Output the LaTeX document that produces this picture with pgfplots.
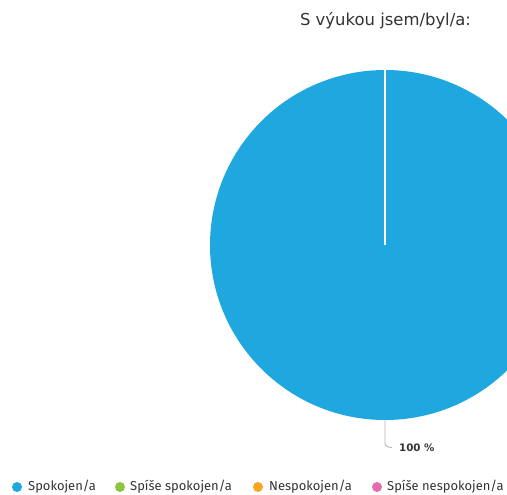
\documentclass[border=0pt]{standalone}
\usepackage{pgfplots}
\usepackage{pgfplotstable}
\pgfplotsset{compat=1.18}
\usepackage{fontspec}
\setmainfont{Fira Sans}
\newfontfamily\titlefont{DejaVu Sans}
\definecolor{cBlue}{HTML}{1FA8E0}
\definecolor{cGreen}{HTML}{8CC63F}
\definecolor{cOrange}{HTML}{F5A623}
\definecolor{cPink}{HTML}{E66DAA}
\definecolor{cText}{HTML}{333333}
\pgfplotstableread{
label value
Spokojen/a 100
SpisheSpokojen 0
Nespokojen 0
SpisheNespokojen 0
}\piedata
\begin{document}
\begin{tikzpicture}
\begin{axis}[name=ax, width=507bp, height=495bp, scale only axis,
  xmin=0, xmax=507, ymin=0, ymax=495, enlargelimits=false,
  hide axis, clip=true]
\pgfplotstablegetelem{0}{value}\of\piedata
\edef\vA{\pgfplotsretval}
\fill[cBlue] (axis cs:385,250) -- ++(90:175bp) arc[start angle=90, delta angle={-3.6*\vA}, radius=175bp] -- cycle;
\draw[white, line width=1.6bp] (axis cs:385,250) -- ++(90:175.5bp);
\draw[gray!60, line width=0.8bp] (axis cs:385,75) -- (axis cs:385,52) to[out=-90,in=180] (axis cs:392,47.5);
\node[anchor=west, font=\titlefont\bfseries\fontsize{10.3}{12}\selectfont, text=cText, inner sep=0pt] at (axis cs:399,47.5) {100 \%};
\node[font=\titlefont\fontsize{16.5}{19}\selectfont, text=cText, inner sep=0pt] at (axis cs:385.5,474) {S výukou jsem/byl/a:};
% legend
\fill[cBlue] (axis cs:17,8) circle[radius=5bp];
\node[anchor=west, inner sep=0pt, text=cText, font=\fontsize{13}{15}\selectfont] at (axis cs:28,8) {Spokojen/a};
\fill[cGreen] (axis cs:120,8) circle[radius=5bp];
\node[anchor=west, inner sep=0pt, text=cText, font=\fontsize{13}{15}\selectfont] at (axis cs:130,8) {Spíše spokojen/a};
\fill[cOrange] (axis cs:258,8) circle[radius=5bp];
\node[anchor=west, inner sep=0pt, text=cText, font=\fontsize{13}{15}\selectfont] at (axis cs:269,8) {Nespokojen/a};
\fill[cPink] (axis cs:377,8) circle[radius=5bp];
\node[anchor=west, inner sep=0pt, text=cText, font=\fontsize{13}{15}\selectfont] at (axis cs:387,8) {Spíše nespokojen/a};
\end{axis}
\pgfresetboundingbox
\path[use as bounding box] (ax.south west) rectangle (ax.north east);
\end{tikzpicture}
\end{document}
